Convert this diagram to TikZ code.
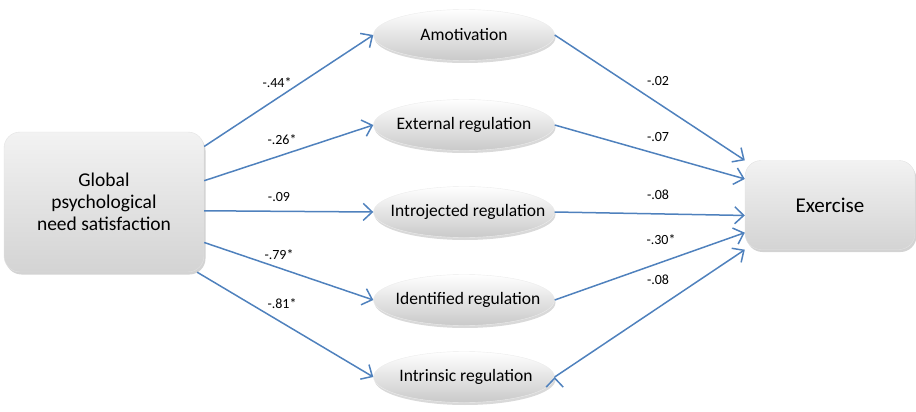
\documentclass[tikz,border=0pt]{standalone}
\usepackage{fontspec}
\setmainfont{Carlito}
\usetikzlibrary{arrows.meta,shapes.geometric,shadows}
\definecolor{linkblue}{RGB}{79,129,189}

\begin{document}
\begin{tikzpicture}[x=1pt,y=-1pt,
            box/.style={draw=gray!22,rounded corners=16pt,top color=gray!10,bottom color=gray!34,align=center,inner sep=0,
              drop shadow={shadow xshift=1.5pt,shadow yshift=-2.5pt,opacity=.35},font=\fontsize{19.5}{22}\selectfont},
            oval/.style={ellipse,draw=gray!15,top color=white,bottom color=gray!42,minimum width=181pt,minimum height=51pt,inner sep=0,
              drop shadow={shadow xshift=1pt,shadow yshift=-2.5pt,opacity=.3},font=\fontsize{17.5}{20}\selectfont},
            coef/.style={inner sep=0,font=\fontsize{14}{16}\selectfont},
            link/.style={draw=linkblue,line width=1.5pt,-{Straight Barb[length=9pt,width=17pt]}}
          ]
          \useasboundingbox (0,0) rectangle (916,412);

          %outer boxes
          \node[box,minimum width=200pt,minimum height=140pt] (glob) at (104,202) {Global\\psychological\\need satisfaction};
          \node[box,minimum width=170pt,minimum height=89pt,font=\fontsize{21}{24}\selectfont] (exer) at (830,205) {Exercise};

          %motivation types
          \node[oval] (amot) at (464,35) {\makebox[0pt]{Amotivation}};
          \node[oval] (ext) at (464,125) {\makebox[0pt]{External regulation}};
          \node[oval] (intro) at (464,212) {\makebox[0pt]{\hspace{8pt}Introjected regulation}};
          \node[oval] (ident) at (464,300) {\makebox[0pt]{\hspace{8pt}Identified regulation}};
          \node[oval] (intr) at (464,377) {\makebox[0pt]{\hspace{4pt}Intrinsic regulation}};

          %paths
          \path[link]
          (glob.29.7) edge (amot.west)
          (glob.12.4) edge (ext.west)
          (glob.-5.7) edge (intro.west)
          (glob.-22.3) edge (ident.west)
          (glob.-37) edge (intr.west)
          (amot.east) edge (exer.north west)
          (ext.east) edge (exer.163.6)
          (intro.east) edge (exer.-173)
          (ident.east) edge (exer.198)
          (intr.east) edge (exer.south west)
          ;

          %coefficients
          \node[coef] (c1) at (277,83) {-.44*};
          \node[coef] (c2) at (282,140) {-.26*};
          \node[coef] (c3) at (279,197) {-.09};
          \node[coef] (c4) at (279,255) {-.79*};
          \node[coef] (c5) at (282,304) {-.81*};
          \node[coef] (d1) at (658,81) {-.02};
          \node[coef] (d2) at (658,137) {-.07};
          \node[coef] (d3) at (658,195) {-.08};
          \node[coef] (d4) at (661,240) {-.30*};
          \node[coef] (d5) at (658,280) {-.08};

      \end{tikzpicture}
\end{document}
